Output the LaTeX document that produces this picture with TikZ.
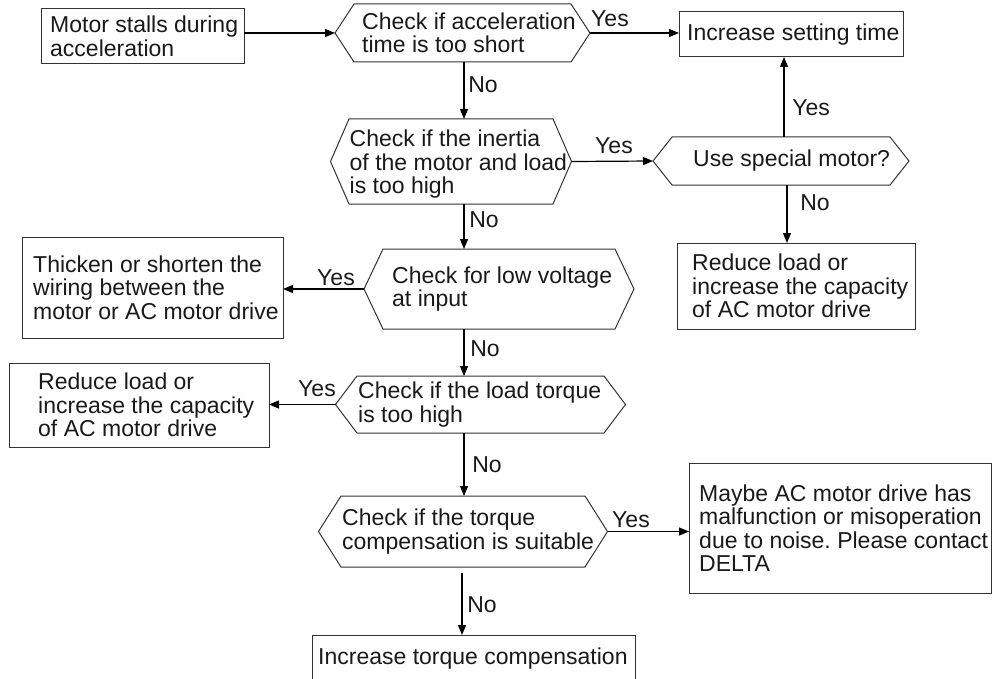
\documentclass[tikz,border=0pt]{standalone}
\usepackage{fontspec}
\setmainfont{Liberation Sans}
\usetikzlibrary{arrows.meta,calc}
\frenchspacing
\newcommand\hexnode[2]{%
  \draw[hexline] (#1.north west) -- (#1.north east) -- ([xshift=#2]#1.east) -- (#1.south east) -- (#1.south west) -- ([xshift=-#2]#1.west) -- cycle;
  \coordinate (#1-l) at ([xshift=-#2]#1.west);
  \coordinate (#1-r) at ([xshift=#2]#1.east);}
\begin{document}
\begin{tikzpicture}[x=1pt,y=-1pt,
  font=\fontsize{23}{23.5}\selectfont,
  shapebox/.style={draw=black!80, line width=1pt, inner sep=0pt, outer sep=0pt},
  hexline/.style={draw=black!80, line width=1pt},
  blank/.style={inner sep=0pt, outer sep=0pt},
  txt/.style={inner sep=0pt, align=left, anchor=west, text=black!90},
  lbl/.style={inner sep=0pt, text=black!90},
  arr/.style={line width=1.2pt, -{Triangle[length=10pt,width=8pt]}},
]
\useasboundingbox (0,0) rectangle (992,679);
\clip (0,0) rectangle (992,679);

% rectangles
\node[shapebox, minimum width=203, minimum height=55] (start) at (142.5,36.5) {};
\node[txt] at ([xshift=9]start.west) {Motor stalls during\\acceleration};

\node[shapebox, minimum width=224, minimum height=45] (inc) at (791,34.5) {};
\node[txt] at ([xshift=8]inc.west) {Increase setting time};

\node[shapebox, minimum width=238, minimum height=86] (rr) at (796,286) {};
\node[txt] at ([xshift=15]rr.west) {Reduce load or\\increase the capacity\\of AC motor drive};

\node[shapebox, minimum width=261, minimum height=101] (tk) at (152.5,287.5) {};
\node[txt] at ([xshift=11]tk.west) {Thicken or shorten the\\wiring between the\\motor or AC motor drive};

\node[shapebox, minimum width=260, minimum height=84] (lr) at (139,405) {};
\node[txt] at ([xshift=29]lr.west) {Reduce load or\\increase the capacity\\of AC motor drive};

\node[shapebox, minimum width=302, minimum height=130] (mb) at (840,528) {};
\node[txt] at ([xshift=10]mb.west) {Maybe AC motor drive has\\malfunction or misoperation\\due to noise. Please contact\\DELTA};

\node[shapebox, minimum width=323, minimum height=47] (itc) at (473.5,658.5) {};
\node[txt] at ([xshift=6]itc.west) {Increase torque compensation};

% decisions
\node[blank, minimum width=217, minimum height=58] (d1) at (462.5,33) {};
\hexnode{d1}{19}
\node[txt] at ([xshift=8]d1.west) {Check if acceleration\\time is too short};

\node[blank, minimum width=204, minimum height=85] (d2) at (451,161.5) {};
\hexnode{d2}{18.5}
\node[txt] at ([xshift=0.5,yshift=-3]d2.west) {Check if the inertia\\of the motor and load\\is too high};

\node[blank, minimum width=218, minimum height=48] (sp) at (781,161) {};
\hexnode{sp}{19}
\node[txt] at ([xshift=21]sp.west) {Use special motor?};

\node[blank, minimum width=232, minimum height=80] (d3) at (499,289) {};
\hexnode{d3}{19}
\node[txt] at ([xshift=9]d3.west) {Check for low voltage\\at input};

\node[blank, minimum width=247, minimum height=57] (d4) at (480.5,404.5) {};
\hexnode{d4}{21.5}
\node[txt] at ([xshift=1]d4.west) {Check if the load torque\\is too high};

\node[blank, minimum width=244, minimum height=71] (d5) at (463,531.5) {};
\hexnode{d5}{22.5}
\node[txt] at ([xshift=1]d5.west) {Check if the torque\\compensation is suitable};

% helper coordinates
\coordinate (spine) at (464,0);
\coordinate (spine2) at (462,0);
\coordinate (upx) at (784,0);
\coordinate (dnx) at (787,0);
\coordinate (d5b) at ([yshift=-6]d5.south);

% connectors
\draw[arr] (d1-l -| start.east) -- (d1-l);
\draw[arr] (d1-r) -- (d1-r -| inc.west);
\draw[arr] (d1.south -| spine) -- (d2.north -| spine);
\draw[arr] (d2-r) -- (sp-l);
\draw[arr] (sp.north -| upx) -- (inc.south -| upx);
\draw[arr] (sp.south -| dnx) -- (rr.north -| dnx);
\draw[arr] (d2.south -| spine) -- (d3.north -| spine);
\draw[arr] (d3-l) -- (d3-l -| tk.east);
\draw[arr] (d3.south -| spine) -- (d4.north -| spine);
\draw[arr] (d4-l) -- (d4-l -| lr.east);
\draw[arr] (d4.south -| spine) -- (d5.north -| spine);
\draw[arr] (d5-r) -- (d5-r -| mb.west);
\draw[arr] (d5b -| spine2) -- (itc.north -| spine2);

% labels
\node[lbl] (y1) at (610,19) {Yes};
\node[lbl] (n1) at (483,85) {No};
\node[lbl] (y2) at (614,146) {Yes};
\node[lbl] (n2) at (484,220) {No};
\node[lbl] (y3) at (811,108) {Yes};
\node[lbl] (n3) at (815,203) {No};
\node[lbl] (y4) at (336,278) {Yes};
\node[lbl] (n4) at (485,349) {No};
\node[lbl] (y5) at (317,389) {Yes};
\node[lbl] (n5) at (487,465) {No};
\node[lbl] (y6) at (631,520) {Yes};
\node[lbl] (n6) at (482,605) {No};
\end{tikzpicture}
\end{document}
